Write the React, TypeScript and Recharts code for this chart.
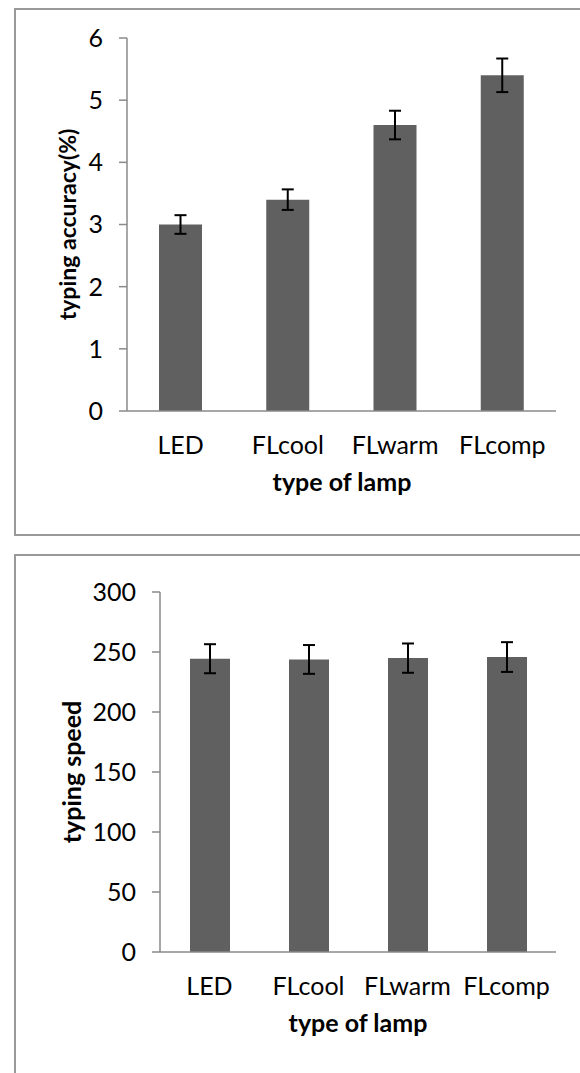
import { BarChart, Bar, XAxis, YAxis, ErrorBar } from "recharts";

const lamps = ["LED", "FLcool", "FLwarm", "FLcomp"];
const accuracy = [3.0, 3.4, 4.6, 5.4];
const accuracyErr = [0.15, 0.165, 0.23, 0.27];
const speed = [244.4, 243.8, 244.9, 245.8];
const speedErr = [12.1, 12.0, 12.2, 12.4];
const accuracyTicks = [0, 1, 2, 3, 4, 5, 6];
const speedTicks = [0, 50, 100, 150, 200, 250, 300];

const FONT = "Lato, 'Open Sans', sans-serif";
const AXIS = "#8a8a8a";
const BAR = "#606060";

const accuracyData = lamps.map((name, i) => ({ name, value: accuracy[i], err: accuracyErr[i] }));
const speedData = lamps.map((name, i) => ({ name, value: speed[i], err: speedErr[i] }));

// titles sit at fixed spots, recharts would otherwise pass its own x/y
function YTitle({ lx, ly, value, size }: { lx: number; ly: number; value: string; size: number }) {
  return (
    <text
      x={lx}
      y={ly}
      transform={`rotate(-90 ${lx} ${ly})`}
      textAnchor="middle"
      dominantBaseline="central"
      fontFamily={FONT}
      fontWeight="bold"
      fontSize={size}
      fill="#000"
    >
      {value}
    </text>
  );
}

function XTitle({ lx, ly, value }: { lx: number; ly: number; value: string }) {
  return (
    <text x={lx} y={ly} textAnchor="middle" fontFamily={FONT} fontWeight="bold" fontSize={25} fill="#000">
      {value}
    </text>
  );
}

const tickStyle = { fontFamily: FONT, fontSize: 25, fill: "#000" };

interface LampChartProps {
  data: { name: string; value: number; err: number }[];
  ticks: number[];
  yTitle: string;
  yTitleSize: number;
  height: number;
  top: number;
  bottom: number;
  axisWidth: number;
  barSize: number;
  yTitleX: number;
  xTitleX: number;
}

function LampChart({
  data,
  ticks,
  yTitle,
  yTitleSize,
  height,
  top,
  bottom,
  axisWidth,
  barSize,
  yTitleX,
  xTitleX,
}: LampChartProps) {
  const plotBottom = height - bottom - 80;
  return (
    <BarChart
      width={580}
      height={height}
      data={data}
      margin={{ top, right: 24, bottom, left: 0 }}
      barSize={barSize}
    >
      <XAxis
        dataKey="name"
        axisLine={{ stroke: AXIS, strokeWidth: 1.5 }}
        tickLine={false}
        tickSize={0}
        tickMargin={25}
        height={80}
        tick={tickStyle}
        interval={0}
        label={<XTitle lx={xTitleX} ly={plotBottom + 80} value="type of lamp" />}
      />
      <YAxis
        width={axisWidth}
        domain={[ticks[0], ticks[ticks.length - 1]]}
        ticks={ticks}
        interval={0}
        axisLine={{ stroke: AXIS, strokeWidth: 1.5 }}
        tickLine={{ stroke: AXIS, strokeWidth: 1.5 }}
        tickSize={8}
        tickMargin={16}
        tick={tickStyle}
        label={<YTitle lx={yTitleX} ly={(top + plotBottom) / 2} value={yTitle} size={yTitleSize} />}
      />
      <Bar dataKey="value" fill={BAR} isAnimationActive={false}>
        <ErrorBar dataKey="err" direction="y" width={6} stroke="#000" strokeWidth={2} />
      </Bar>
    </BarChart>
  );
}

export default function App() {
  return (
    <div style={{ position: "absolute", left: 0, top: 0, width: 580, height: 1073, overflow: "hidden", background: "#fff" }}>
      <div style={{ position: "absolute", left: 14, top: 8, width: 600, height: 524, border: "2px solid #999" }} />
      <div style={{ position: "absolute", left: 14, top: 554, width: 600, height: 600, border: "2px solid #999" }} />
      <div style={{ position: "absolute", left: 0, top: 0 }}>
        <LampChart
          data={accuracyData}
          ticks={accuracyTicks}
          yTitle="typing accuracy(%)"
          yTitleSize={23}
          height={540}
          top={38}
          bottom={49}
          axisWidth={127}
          barSize={43}
          yTitleX={67}
          xTitleX={342}
        />
      </div>
      <div style={{ position: "absolute", left: 0, top: 540 }}>
        <LampChart
          data={speedData}
          ticks={speedTicks}
          yTitle="typing speed"
          yTitleSize={25}
          height={533}
          top={52}
          bottom={41}
          axisWidth={160}
          barSize={40}
          yTitleX={71}
          xTitleX={358}
        />
      </div>
    </div>
  );
}
